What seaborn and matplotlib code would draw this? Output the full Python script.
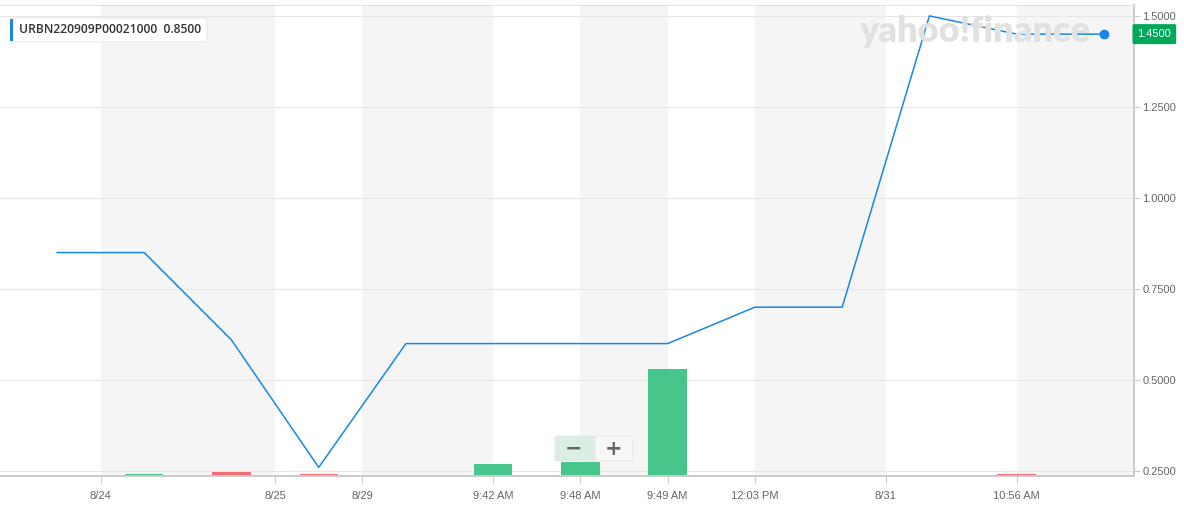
import matplotlib
matplotlib.use("Agg")
import matplotlib.pyplot as plt
import matplotlib.patches as mpatches
import matplotlib.transforms as mtransforms
import numpy as np
import pandas as pd
import seaborn as sns

# --- data ---
price = [0.85, 0.85, 0.61, 0.26, 0.60, 0.60, 0.60, 0.60, 0.70, 0.70, 1.50, 1.45, 1.45]
volume = [0, 1, 2, 1, 0, 6, 7, 54, 0, 0, 0, 1, 0]
vol_dir = ["up", "up", "down", "down", "up", "up", "up", "up", "up", "up", "up", "down", "up"]
tick_pos = [0.5, 2.5, 3.5, 5, 6, 7, 8, 9.5, 11]
tick_labels = ["8/24", "8/25", "8/29", "9:42 AM", "9:48 AM", "9:49 AM", "12:03 PM", "8/31", "10:56 AM"]
y_ticks = [0.25, 0.50, 0.75, 1.00, 1.25, 1.50]
symbol = "URBN220909P00021000"
first_price = 0.85
last_price = 1.45

LINE = "#1a86e8"
GREEN = "#47c68c"
RED = "#f26d78"
BAND = "#f5f5f5"
TXT = "#666666"

sns.set_theme(style="white")
plt.rcParams["font.family"] = ["Liberation Sans", "DejaVu Sans"]

W, H = 1184, 508
fig = plt.figure(figsize=(W / 100, H / 100), dpi=100)
ax = fig.add_axes([0, (H - 476) / H, 1134 / W, (476 - 5) / H])
ax2 = ax.twinx()

df = pd.DataFrame({"idx": np.arange(len(price)), "price": price,
                   "volume": volume, "dir": vol_dir})

x0 = -0.653
x1 = 12.345

# alternating background bands between tick positions
edges = tick_pos + [x1]
for i in range(0, len(edges) - 1, 2):
    ax.axvspan(edges[i], edges[i + 1], color=BAND, lw=0, zorder=0)

# horizontal grid (price levels) drawn under the volume bars
grid_tr = mtransforms.blended_transform_factory(ax.transAxes, ax2.transData)
for v in y_ticks:
    ax.plot([0, 1], [v, v], color="#e6e6e6", lw=0.8, transform=grid_tr, zorder=1)

# volume bars
sns.barplot(data=df, x="idx", y="volume", hue="dir", dodge=False,
            palette={"up": GREEN, "down": RED}, width=0.44, legend=False,
            saturation=1, linewidth=0, ax=ax, zorder=2, native_scale=True)
ax.set_ylim(0, 238)
ax.set_yticks([])
ax.set_ylabel("")
ax.set_xlabel("")

# price line
sns.lineplot(data=df, x="idx", y="price", color=LINE, lw=1.1, ax=ax2, zorder=3)
ax2.plot(df["idx"].iloc[-1], df["price"].iloc[-1], "o", color=LINE, ms=6, zorder=4)
ax2.set_ylim(0.2363, 1.530)
ax2.set_yticks(y_ticks)
ax2.set_yticklabels([f"{v:.4f}" for v in y_ticks])
ax2.set_ylabel("")
ax2.set_xlabel("")

ax.set_xlim(x0, x1)
ax2.set_xlim(x0, x1)
ax.set_xticks(tick_pos)
ax.set_xticklabels(tick_labels)

for a in (ax, ax2):
    a.spines["left"].set_visible(False)
    a.spines["bottom"].set_color("#cccccc")
    a.spines["right"].set_color("#cccccc")
    a.spines["top"].set_color("#e3e3e3")
    a.spines["top"].set_linewidth(0.8)

ax.tick_params(axis="x", bottom=True, length=5, width=0.8, color="#cccccc",
               labelsize=8, labelcolor=TXT, pad=6)
ax2.tick_params(axis="y", right=True, length=4, width=0.8, color="#cccccc",
                labelsize=8, labelcolor=TXT, pad=2)

# last price tag
ax2.annotate(f"{last_price:.4f}", xy=(1.0, last_price), xycoords=("axes fraction", "data"),
             xytext=(2.5, 0), textcoords="offset points", ha="left", va="center",
             fontsize=8, color="white", annotation_clip=False,
             bbox=dict(boxstyle="round,pad=0.45,rounding_size=0.15", fc="#00a85a", ec="none"))

# watermark
fig.text(975 / W, 1 - 31 / H, "yahoo!finance", ha="center", va="center",
         fontsize=26, fontweight="heavy", color="#e1e1e1", zorder=0.5,
         family=["Lato", "DejaVu Sans"])

# symbol legend box
fig.patches.append(mpatches.FancyBboxPatch((11 / W, 1 - 42 / H), 196 / W, 24 / H,
                   boxstyle="round,pad=0,rounding_size=0.003", transform=fig.transFigure,
                   fc="white", ec="#e8e8e8", lw=0.8, zorder=5))
fig.patches.append(mpatches.Rectangle((10 / W, 1 - 41 / H), 3 / W, 22 / H,
                   transform=fig.transFigure, fc=LINE, ec="none", zorder=6))
fig.text(19 / W, 1 - 29.5 / H, f"{symbol}  {first_price:.4f}", ha="left", va="center",
         fontsize=8.7, fontweight="semibold", color="#333333", family=["Open Sans", "DejaVu Sans"],
         zorder=7)

# zoom widget
fig.patches.append(mpatches.FancyBboxPatch((555 / W, 1 - 461 / H), 40 / W, 25 / H,
                   boxstyle="round,pad=0,rounding_size=0.003", transform=fig.transFigure,
                   fc="#dbeee4", ec="#e6e6e6", lw=0.6, zorder=5))
fig.patches.append(mpatches.FancyBboxPatch((595 / W, 1 - 461 / H), 38 / W, 25 / H,
                   boxstyle="round,pad=0,rounding_size=0.003", transform=fig.transFigure,
                   fc="#f7f7f7", ec="#e6e6e6", lw=0.6, zorder=5))
fig.text(574 / W, 1 - 449 / H, "\u2212", ha="center", va="center", fontsize=15,
         fontweight="bold", color="#666666", zorder=6, family=["DejaVu Sans"])
fig.text(614 / W, 1 - 449 / H, "+", ha="center", va="center", fontsize=15,
         fontweight="bold", color="#666666", zorder=6, family=["DejaVu Sans"])

fig.savefig("out.png", dpi=100)
